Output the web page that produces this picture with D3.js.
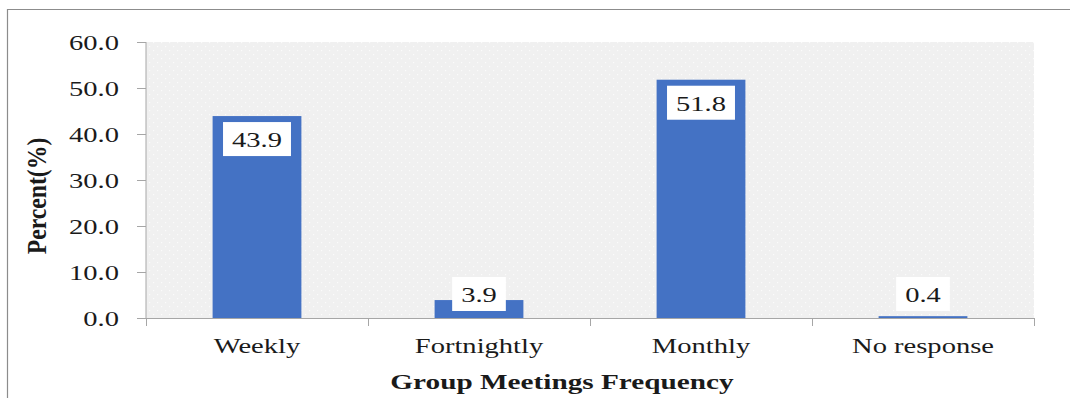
<!DOCTYPE html>
<html>
<head>
<meta charset="utf-8">
<script src="https://cdn.jsdelivr.net/npm/d3@7"></script>
<style>
  html, body { margin: 0; padding: 0; background: #ffffff; }
  svg { display: block; }
  text { font-family: "Liberation Serif", "Times New Roman", serif; fill: #1a1a1a; }
</style>
</head>
<body>
<svg id="chart" width="1070" height="398"></svg>
<script>
// Group meeting frequency, percent of respondents
const categories = ["Weekly", "Fortnightly", "Monthly", "No response"];
const percents = [43.9, 3.9, 51.8, 0.4];
const yTicks = [0, 10, 20, 30, 40, 50, 60];
const xTitle = "Group Meetings Frequency";
const yTitle = "Percent(%)";

const W = 1070, H = 398;
const plot = { left: 146, right: 1034, top: 42, bottom: 318 };
const stretch = 1.36; // wide serif lettering

const svg = d3.select("#chart");

// outer frame (top and left edges)
svg.append("path")
  .attr("d", `M7.5,${H} L7.5,9.5 L${W},9.5`)
  .attr("fill", "none")
  .attr("stroke", "#8c8c8c")
  .attr("stroke-width", 1.2);

const x = d3.scaleBand()
  .domain(categories)
  .range([plot.left, plot.right])
  .paddingInner(0.6)
  .paddingOuter(0.3);

const y = d3.scaleLinear()
  .domain([0, 60])
  .range([plot.bottom, plot.top]);

// dotted plot-area fill
const defs = svg.append("defs");
const pat = defs.append("pattern")
  .attr("id", "dots")
  .attr("width", 8).attr("height", 8)
  .attr("patternUnits", "userSpaceOnUse");
pat.append("rect").attr("width", 8).attr("height", 8).attr("fill", "#f0f0f0");
pat.append("rect").attr("x", 1).attr("y", 2).attr("width", 1.2).attr("height", 1.2).attr("fill", "#fbfbfb");
pat.append("rect").attr("x", 5).attr("y", 6).attr("width", 1.2).attr("height", 1.2).attr("fill", "#fbfbfb");

svg.append("rect")
  .attr("x", plot.left)
  .attr("y", plot.top)
  .attr("width", plot.right - plot.left)
  .attr("height", plot.bottom - plot.top)
  .attr("fill", "url(#dots)");

// bars
svg.append("g").selectAll("rect")
  .data(percents)
  .join("rect")
  .attr("x", (d, i) => x(categories[i]))
  .attr("width", x.bandwidth())
  .attr("y", d => y(d))
  .attr("height", d => y(0) - y(d))
  .attr("fill", "#4472c4");

// y axis
const yAxis = svg.append("g")
  .attr("transform", `translate(${plot.left},0)`)
  .call(d3.axisLeft(y).tickValues(yTicks).tickSize(9).tickPadding(0).tickFormat(d3.format(".1f")));
yAxis.select(".domain").attr("stroke", "#a6a6a6").attr("d", `M0,${plot.top}V${plot.bottom}`);
yAxis.selectAll(".tick line").attr("stroke", "#a6a6a6");
yAxis.selectAll(".tick text")
  .attr("x", null).attr("dy", null)
  .attr("text-anchor", "end")
  .style("font-size", "21px")
  .attr("transform", `translate(-27,7) scale(${stretch},1)`);

// x axis with ticks at category boundaries
const xAxisG = svg.append("g").attr("transform", `translate(0,${plot.bottom})`);
xAxisG.append("line")
  .attr("x1", plot.left).attr("x2", plot.right)
  .attr("y1", 0.5).attr("y2", 0.5)
  .attr("stroke", "#a6a6a6");
const gap = x.step() - x.bandwidth();
const edges = [plot.left].concat(categories.slice(1).map(c => x(c) - gap / 2), [plot.right]);
xAxisG.selectAll("line.tk")
  .data(edges)
  .join("line")
  .attr("class", "tk")
  .attr("x1", d => Math.round(d) + 0.5).attr("x2", d => Math.round(d) + 0.5)
  .attr("y1", 0).attr("y2", 8)
  .attr("stroke", "#a6a6a6");
xAxisG.selectAll("text.cat")
  .data(categories)
  .join("text")
  .attr("class", "cat")
  .attr("text-anchor", "middle")
  .style("font-size", "21px")
  .attr("transform", d => `translate(${x(d) + x.bandwidth() / 2},35) scale(${stretch},1)`)
  .text(d => d);

// value labels in white boxes
const boxH = 34, boxPad = 9;
const lab = svg.append("g").selectAll("g")
  .data(percents)
  .join("g");
lab.each(function (d, i) {
  const g = d3.select(this);
  const cx = x(categories[i]) + x.bandwidth() / 2;
  const top = Math.min(y(d) + 6, y(0) - 7 - boxH);
  const t = g.append("text")
    .attr("text-anchor", "middle")
    .style("font-size", "21px")
    .attr("transform", `translate(${cx},${top + boxH / 2 + 8}) scale(${stretch},1)`)
    .text(d3.format(".1f")(d));
  const w = t.node().getComputedTextLength() * stretch + boxPad * 2;
  g.insert("rect", "text")
    .attr("x", cx - w / 2)
    .attr("y", top)
    .attr("width", w)
    .attr("height", boxH)
    .attr("fill", "#ffffff");
});

// axis titles
svg.append("text")
  .attr("text-anchor", "middle")
  .style("font-size", "22px")
  .style("font-weight", "bold")
  .attr("transform", `translate(562,389) scale(1.33,1)`)
  .text(xTitle);

svg.append("text")
  .attr("text-anchor", "middle")
  .style("font-size", "23px")
  .style("font-weight", "bold")
  .attr("transform", `translate(46,${(plot.top + plot.bottom) / 2 + 16}) rotate(-90) scale(1.03,1.15)`)
  .text(yTitle);
</script>
</body>
</html>
